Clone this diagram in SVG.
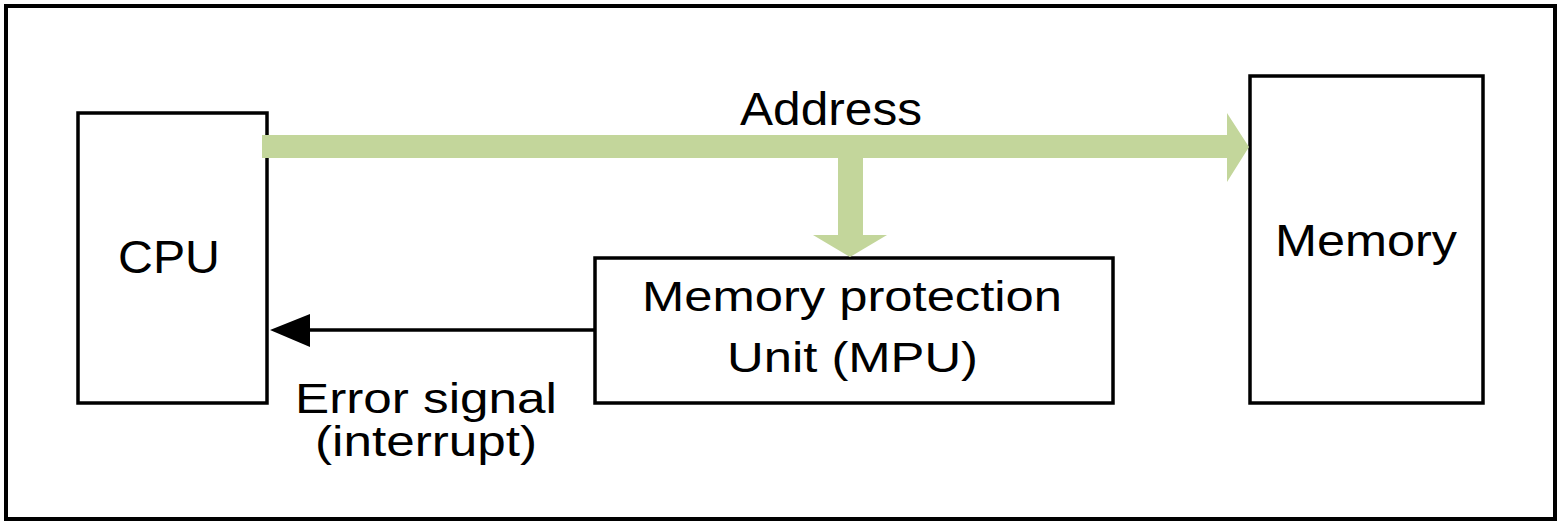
<svg xmlns="http://www.w3.org/2000/svg" width="1561" height="524" viewBox="0 0 1561 524">
<style>
.box{fill:#fff;stroke:#000;stroke-width:3.5}
.lbl{font-family:"Liberation Sans",Arial,sans-serif;font-size:42px;fill:#000}
.big{font-size:46px}
.bus{fill:#c3d69b;stroke:none}
</style>
<rect x="0" y="0" width="1561" height="524" fill="#fff"/>
<rect id="frame" x="6" y="6" width="1549" height="513" fill="none" stroke="#000" stroke-width="4"/>
<g id="cpu">
<rect class="box" x="78" y="113" width="189" height="290"/>
<text class="lbl big" x="118" y="273" textLength="102" lengthAdjust="spacingAndGlyphs">CPU</text>
</g>
<g id="memory">
<rect class="box" x="1250" y="76" width="233" height="327"/>
<text class="lbl" x="1275" y="256" textLength="182" lengthAdjust="spacingAndGlyphs" style="font-size:44px">Memory</text>
</g>
<g id="mpu">
<rect class="box" x="595" y="258" width="518" height="145"/>
<text class="lbl" x="642" y="311" textLength="420" lengthAdjust="spacingAndGlyphs">Memory protection</text>
<text class="lbl" x="727" y="372" textLength="251" lengthAdjust="spacingAndGlyphs">Unit (MPU)</text>
</g>
<g id="connectors">
<polygon class="bus" points="262,135 1227,135 1227,113 1249,147 1227,182 1227,158 262,158"/>
<polygon class="bus" points="838,158 863,158 863,235 887,235 850,257 813,235 838,235"/>
<line x1="595" y1="330" x2="305" y2="330" stroke="#000" stroke-width="3.5"/>
<polygon points="270,330 310,314 310,347" fill="#000"/>
</g>
<g id="labels">
<text class="lbl big" x="740" y="125" textLength="182" lengthAdjust="spacingAndGlyphs">Address</text>
<text class="lbl" x="295" y="413" textLength="262" lengthAdjust="spacingAndGlyphs">Error signal</text>
<text class="lbl" x="315" y="456" textLength="222" lengthAdjust="spacingAndGlyphs">(interrupt)</text>
</g>
</svg>
